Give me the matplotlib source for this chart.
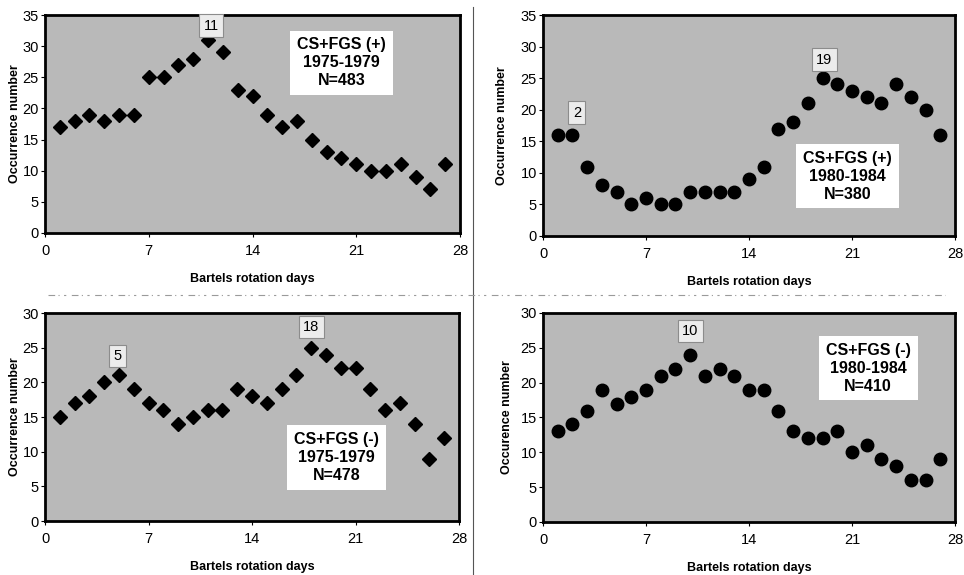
import matplotlib.pyplot as plt
import numpy as np
from matplotlib.lines import Line2D

plt.rcParams['font.family'] = ['Liberation Sans', 'DejaVu Sans']

# ---- data ----
days = list(range(1, 28))
pos_75_79 = [17, 18, 19, 18, 19, 19, 25, 25, 27, 28, 31, 29, 23, 22, 19,
             17, 18, 15, 13, 12, 11, 10, 10, 11, 9, 7, 11]
pos_80_84 = [16, 16, 11, 8, 7, 5, 6, 5, 5, 7, 7, 7, 7, 9, 11,
             17, 18, 21, 25, 24, 23, 22, 21, 24, 22, 20, 16]
neg_75_79 = [15, 17, 18, 20, 21, 19, 17, 16, 14, 15, 16, 16, 19, 18, 17,
             19, 21, 25, 24, 22, 22, 19, 16, 17, 14, 9, 12]
neg_80_84 = [13, 14, 16, 19, 17, 18, 19, 21, 22, 24, 21, 22, 21, 19, 19,
             16, 13, 12, 12, 13, 10, 11, 9, 8, 6, 6, 9]

xticks = [0, 7, 14, 21, 28]

fig = plt.figure(figsize=(9.64, 5.75), dpi=100)


def panel(rect, y, marker, ms, ymax, ylabel, ylab_x, info, info_xy, peaks):
    ax = fig.add_axes(rect)
    ax.set_facecolor('#b9b9b9')
    ax.plot(days, y, linestyle='none', marker=marker, ms=ms,
            color='black', zorder=3, clip_on=False)
    ax.set_xlim(0, 28)
    ax.set_ylim(0, ymax)
    ax.set_xticks(xticks)
    ax.set_yticks(np.arange(0, ymax + 1, 5))
    ax.tick_params(labelsize=10.5, length=3, width=0.8)
    ax.tick_params(axis='x', pad=5)
    ax.tick_params(axis='y', pad=1.5)
    for s in ax.spines.values():
        s.set_linewidth(2)
    ax.set_xlabel('Bartels rotation days', fontsize=9, fontweight='bold', labelpad=11)
    ax.set_ylabel(ylabel, fontsize=9, fontweight='bold')
    ax.yaxis.set_label_coords(ylab_x, 0.5)
    ax.text(info_xy[0], info_xy[1], info, ha='center', va='center',
            fontsize=11.5, fontweight='bold', linespacing=1.25, zorder=4,
            bbox=dict(facecolor='white', edgecolor='none', pad=5))
    for lab, px, py in peaks:
        ax.text(px, py, lab, ha='center', va='center', fontsize=10.5, zorder=4,
                bbox=dict(facecolor='#ececec', edgecolor='#8c8c8c',
                          linewidth=0.8, boxstyle='square,pad=0.3'))
    return ax


panel([0.0467, 0.5948, 0.4305, 0.3791], pos_75_79, 'D', 7.5, 35,
      'Occurrence number', -0.058, 'CS+FGS (+)\n1975-1979\nN=483', (20.0, 27.3),
      [('11', 11.2, 33.3)])
panel([0.5633, 0.5896, 0.4274, 0.3843], pos_80_84, 'o', 9, 35,
      'Occurrence number', -0.085, 'CS+FGS (+)\n1980-1984\nN=380', (20.7, 9.5),
      [('2', 2.3, 19.5), ('19', 19.1, 27.9)])
panel([0.0467, 0.0939, 0.4295, 0.3617], neg_75_79, 'D', 7.5, 30,
      'Occurrence number', -0.058, 'CS+FGS (-)\n1975-1979\nN=478', (19.7, 9.2),
      [('5', 4.9, 23.8), ('18', 18.0, 28.0)])
panel([0.5633, 0.0922, 0.4274, 0.3635], neg_80_84, 'o', 9, 30,
      'Occurence number', -0.072, 'CS+FGS (-)\n1980-1984\nN=410', (22.1, 22.1),
      [('10', 10.0, 27.4)])

# page separators
fig.add_artist(Line2D([0.4907, 0.4907], [0.0, 0.988], color='#555555', lw=0.8))
fig.add_artist(Line2D([0.05, 0.98], [0.487, 0.487], color='#9a9a9a', lw=0.8,
                      linestyle=(0, (6, 3, 1, 4, 2, 5))))

fig.savefig('out.png', dpi=100)
